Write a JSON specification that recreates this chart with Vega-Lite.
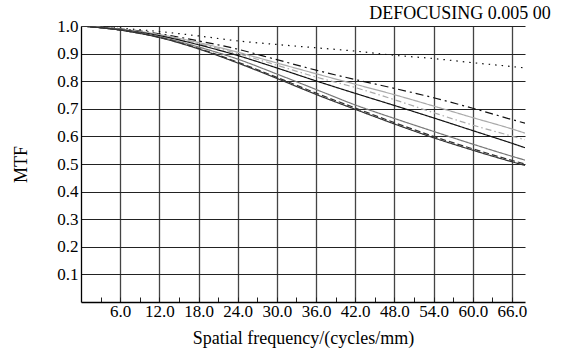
{
  "$schema": "https://vega.github.io/schema/vega-lite/v6.json",
  "width": 444,
  "height": 276,
  "autosize": "none",
  "padding": {"left": 81, "top": 26, "right": 38, "bottom": 55},
  "background": "white",
  "title": {"text": "DEFOCUSING 0.005 00", "anchor": "end", "dx": 24, "dy": 11, "offset": 5, "font": "Liberation Serif", "fontSize": 18, "fontWeight": "normal", "color": "#000"},
  "config": {"view": {"stroke": null}},
  "data": {"values": [
    {"f":0,"mtf":1.0,"s":"dotted"},{"f":6,"mtf":0.992,"s":"dotted"},{"f":12,"mtf":0.98,"s":"dotted"},{"f":18,"mtf":0.964,"s":"dotted"},{"f":24,"mtf":0.946,"s":"dotted"},{"f":30,"mtf":0.933,"s":"dotted"},{"f":36,"mtf":0.921,"s":"dotted"},{"f":42,"mtf":0.909,"s":"dotted"},{"f":48,"mtf":0.894,"s":"dotted"},{"f":54,"mtf":0.882,"s":"dotted"},{"f":60,"mtf":0.867,"s":"dotted"},{"f":66,"mtf":0.853,"s":"dotted"},{"f":68,"mtf":0.848,"s":"dotted"},
    {"f":0,"mtf":1.0,"s":"dashdot"},{"f":6,"mtf":0.99,"s":"dashdot"},{"f":12,"mtf":0.972,"s":"dashdot"},{"f":18,"mtf":0.946,"s":"dashdot"},{"f":24,"mtf":0.916,"s":"dashdot"},{"f":30,"mtf":0.878,"s":"dashdot"},{"f":36,"mtf":0.84,"s":"dashdot"},{"f":42,"mtf":0.806,"s":"dashdot"},{"f":48,"mtf":0.774,"s":"dashdot"},{"f":54,"mtf":0.74,"s":"dashdot"},{"f":60,"mtf":0.702,"s":"dashdot"},{"f":66,"mtf":0.661,"s":"dashdot"},{"f":68,"mtf":0.648,"s":"dashdot"},
    {"f":0,"mtf":1.0,"s":"lightgray"},{"f":6,"mtf":0.989,"s":"lightgray"},{"f":12,"mtf":0.969,"s":"lightgray"},{"f":18,"mtf":0.94,"s":"lightgray"},{"f":24,"mtf":0.905,"s":"lightgray"},{"f":30,"mtf":0.866,"s":"lightgray"},{"f":36,"mtf":0.827,"s":"lightgray"},{"f":42,"mtf":0.789,"s":"lightgray"},{"f":48,"mtf":0.751,"s":"lightgray"},{"f":54,"mtf":0.71,"s":"lightgray"},{"f":60,"mtf":0.668,"s":"lightgray"},{"f":66,"mtf":0.627,"s":"lightgray"},{"f":68,"mtf":0.612,"s":"lightgray"},
    {"f":0,"mtf":1.0,"s":"lightdash"},{"f":6,"mtf":0.988,"s":"lightdash"},{"f":12,"mtf":0.967,"s":"lightdash"},{"f":18,"mtf":0.936,"s":"lightdash"},{"f":24,"mtf":0.9,"s":"lightdash"},{"f":30,"mtf":0.858,"s":"lightdash"},{"f":36,"mtf":0.815,"s":"lightdash"},{"f":42,"mtf":0.777,"s":"lightdash"},{"f":48,"mtf":0.733,"s":"lightdash"},{"f":54,"mtf":0.686,"s":"lightdash"},{"f":60,"mtf":0.641,"s":"lightdash"},{"f":66,"mtf":0.601,"s":"lightdash"},{"f":68,"mtf":0.588,"s":"lightdash"},
    {"f":0,"mtf":1.0,"s":"black"},{"f":6,"mtf":0.987,"s":"black"},{"f":12,"mtf":0.965,"s":"black"},{"f":18,"mtf":0.932,"s":"black"},{"f":24,"mtf":0.893,"s":"black"},{"f":30,"mtf":0.848,"s":"black"},{"f":36,"mtf":0.801,"s":"black"},{"f":42,"mtf":0.756,"s":"black"},{"f":48,"mtf":0.712,"s":"black"},{"f":54,"mtf":0.667,"s":"black"},{"f":60,"mtf":0.621,"s":"black"},{"f":66,"mtf":0.575,"s":"black"},{"f":68,"mtf":0.559,"s":"black"},
    {"f":0,"mtf":1.0,"s":"gray"},{"f":6,"mtf":0.986,"s":"gray"},{"f":12,"mtf":0.961,"s":"gray"},{"f":18,"mtf":0.924,"s":"gray"},{"f":24,"mtf":0.88,"s":"gray"},{"f":30,"mtf":0.826,"s":"gray"},{"f":36,"mtf":0.77,"s":"gray"},{"f":42,"mtf":0.714,"s":"gray"},{"f":48,"mtf":0.665,"s":"gray"},{"f":54,"mtf":0.618,"s":"gray"},{"f":60,"mtf":0.572,"s":"gray"},{"f":66,"mtf":0.528,"s":"gray"},{"f":68,"mtf":0.514,"s":"gray"},
    {"f":0,"mtf":1.0,"s":"dark"},{"f":6,"mtf":0.985,"s":"dark"},{"f":12,"mtf":0.958,"s":"dark"},{"f":18,"mtf":0.917,"s":"dark"},{"f":24,"mtf":0.866,"s":"dark"},{"f":30,"mtf":0.81,"s":"dark"},{"f":36,"mtf":0.752,"s":"dark"},{"f":42,"mtf":0.698,"s":"dark"},{"f":48,"mtf":0.645,"s":"dark"},{"f":54,"mtf":0.595,"s":"dark"},{"f":60,"mtf":0.55,"s":"dark"},{"f":66,"mtf":0.508,"s":"dark"},{"f":68,"mtf":0.495,"s":"dark"},
    {"f":0,"mtf":1.0,"s":"darkdash"},{"f":6,"mtf":0.985,"s":"darkdash"},{"f":12,"mtf":0.959,"s":"darkdash"},{"f":18,"mtf":0.919,"s":"darkdash"},{"f":24,"mtf":0.869,"s":"darkdash"},{"f":30,"mtf":0.814,"s":"darkdash"},{"f":36,"mtf":0.757,"s":"darkdash"},{"f":42,"mtf":0.703,"s":"darkdash"},{"f":48,"mtf":0.65,"s":"darkdash"},{"f":54,"mtf":0.6,"s":"darkdash"},{"f":60,"mtf":0.555,"s":"darkdash"},{"f":66,"mtf":0.513,"s":"darkdash"},{"f":68,"mtf":0.5,"s":"darkdash"}
  ]},
  "mark": {"type": "line", "interpolate": "monotone", "strokeWidth": 1.2, "clip": true},
  "encoding": {
    "x": {"field": "f", "type": "quantitative",
      "scale": {"domain": [0, 68], "nice": false, "zero": true},
      "axis": {"title": "Spatial frequency/(cycles/mm)", "values": [3,6,9,12,15,18,21,24,27,30,33,36,39,42,45,48,51,54,57,60,63,66],
        "labelExpr": "datum.value % 6 === 0 ? format(datum.value, '.1f') : ''",
        "grid": true, "gridColor": "#444", "gridWidth": 1.3,
        "gridOpacity": {"condition": {"test": "datum.value % 6 !== 0", "value": 0}, "value": 1},
        "tickSize": -5, "tickColor": "#222", "tickWidth": 1,
        "domainColor": "#000", "domainWidth": 1.3,
        "labelFont": "Liberation Serif", "labelFontSize": 17, "labelColor": "#000", "labelPadding": 6,
        "labelOverlap": false, "labelFlush": false,
        "titleFont": "Liberation Serif", "titleFontSize": 18, "titleFontWeight": "normal", "titleColor": "#000", "titlePadding": 10}},
    "y": {"field": "mtf", "type": "quantitative",
      "scale": {"domain": [0, 1], "nice": false},
      "axis": {"title": "MTF", "values": [0.1,0.2,0.3,0.4,0.5,0.6,0.7,0.8,0.9,1.0], "format": ".1f",
        "grid": true, "gridColor": "#222", "gridWidth": 1.2,
        "ticks": false, "domainColor": "#000", "domainWidth": 1.3,
        "labelFont": "Liberation Serif", "labelFontSize": 17, "labelColor": "#000", "labelPadding": 3,
        "titleFont": "Liberation Serif", "titleFontSize": 18, "titleFontWeight": "normal", "titleColor": "#000", "titlePadding": 26}},
    "color": {"field": "s", "type": "nominal", "legend": null,
      "scale": {"domain": ["dotted","dashdot","lightgray","lightdash","black","gray","dark","darkdash"],
                "range": ["#111","#111","#aaaaaa","#aaaaaa","#111","#777777","#333333","#333333"]}},
    "strokeDash": {"field": "s", "type": "nominal", "legend": null,
      "scale": {"domain": ["dotted","dashdot","lightgray","lightdash","black","gray","dark","darkdash"],
                "range": [[1.5,5],[8,4,2,4],[1,0],[6,3,1.5,3],[1,0],[1,0],[1,0],[6,3]]}}
  }
}
